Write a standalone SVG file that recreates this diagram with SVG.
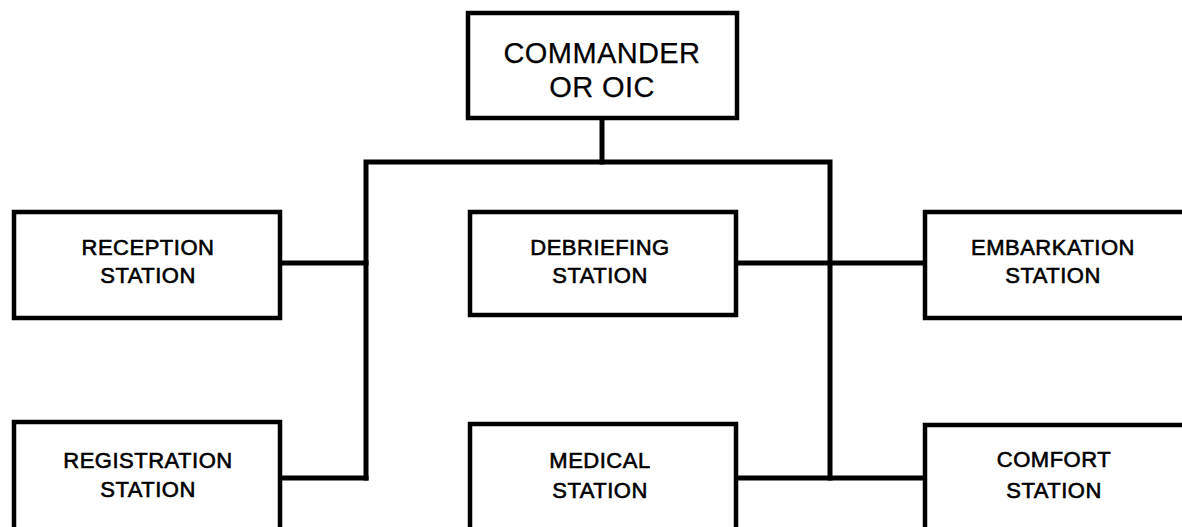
<svg xmlns="http://www.w3.org/2000/svg" width="1182" height="527" viewBox="0 0 1182 527">
  <style>
    .box { fill: #ffffff; stroke: #000000; stroke-width: 4.5; }
    .lbl { font-family: "Liberation Sans", Arial, sans-serif; font-size: 22px; fill: #000000; stroke: #000000; stroke-width: 0.6; text-anchor: middle; letter-spacing: 0.5px; }
    .big { font-size: 29px; letter-spacing: 0.4px; stroke-width: 0.25; }
    .wire { fill: none; stroke: #000000; stroke-width: 5; stroke-linecap: square; stroke-linejoin: miter; }
  </style>
  <rect width="1182" height="527" fill="#ffffff"/>

  <!-- connectors -->
  <g id="connectors">
    <line class="wire" x1="602" y1="118" x2="602" y2="162"/>
    <polyline class="wire" points="366,478 366,162 830,162 830,478"/>
    <line class="wire" x1="282" y1="263" x2="366" y2="263"/>
    <line class="wire" x1="282" y1="478" x2="366" y2="478"/>
    <line class="wire" x1="736" y1="263" x2="925" y2="263"/>
    <line class="wire" x1="736" y1="478" x2="925" y2="478"/>
  </g>

  <g id="commander">
    <rect class="box" x="468" y="13" width="269" height="105"/>
    <text class="lbl big" x="602" y="63">COMMANDER</text>
    <text class="lbl big" x="602" y="97">OR OIC</text>
  </g>

  <g id="reception">
    <rect class="box" x="14" y="212" width="266" height="106"/>
    <text class="lbl" x="148" y="255">RECEPTION</text>
    <text class="lbl" x="148" y="283">STATION</text>
  </g>

  <g id="debriefing">
    <rect class="box" x="470" y="212" width="266" height="103"/>
    <text class="lbl" x="600" y="255">DEBRIEFING</text>
    <text class="lbl" x="600" y="283">STATION</text>
  </g>

  <g id="embarkation">
    <rect class="box" x="925" y="212" width="270" height="106"/>
    <text class="lbl" x="1053" y="255">EMBARKATION</text>
    <text class="lbl" x="1053" y="283">STATION</text>
  </g>

  <g id="registration">
    <rect class="box" x="14" y="422" width="266" height="120"/>
    <text class="lbl" x="148" y="468">REGISTRATION</text>
    <text class="lbl" x="148" y="497">STATION</text>
  </g>

  <g id="medical">
    <rect class="box" x="470" y="424" width="266" height="120"/>
    <text class="lbl" x="600" y="468">MEDICAL</text>
    <text class="lbl" x="600" y="498">STATION</text>
  </g>

  <g id="comfort">
    <rect class="box" x="925" y="425" width="270" height="120"/>
    <text class="lbl" x="1054" y="467">COMFORT</text>
    <text class="lbl" x="1054" y="498">STATION</text>
  </g>
</svg>
